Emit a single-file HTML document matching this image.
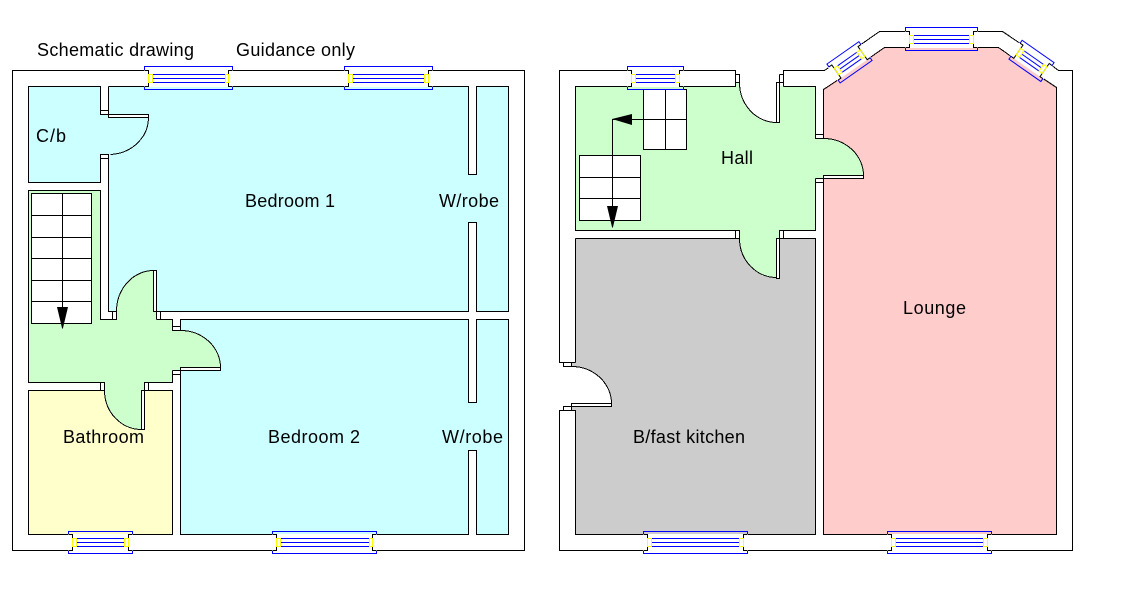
<!DOCTYPE html>
<html>
<head>
<meta charset="utf-8">
<style>
html,body{margin:0;padding:0;background:#fff;width:1124px;height:606px;overflow:hidden}
svg{display:block}
.k{fill:none;stroke:#000;stroke-width:1;shape-rendering:crispEdges}
.kw{fill:#fff;stroke:#000;stroke-width:1;shape-rendering:crispEdges}
.b{fill:none;stroke:#00f;stroke-width:1;shape-rendering:crispEdges}
.y{fill:none;stroke:#ff0;stroke-width:1;shape-rendering:crispEdges}
.w{fill:#fff;stroke:none;shape-rendering:crispEdges}
.f{stroke:none;shape-rendering:crispEdges}
text{font-family:"Liberation Sans",Arial,sans-serif;font-size:18px;fill:#000}
</style>
</head>
<body>
<svg width="1124" height="606" viewBox="0 0 1124 606" xmlns="http://www.w3.org/2000/svg">
<rect x="0" y="0" width="1124" height="606" fill="#fff"/>

<!-- LEFT PLAN fills -->
<g class="f" fill="#ccffff">
<rect x="108" y="86" width="400" height="225"/>
<rect x="180" y="319" width="328" height="215"/>
<rect x="28" y="86" width="72" height="96"/>
<rect x="100" y="114" width="9" height="40"/>
</g>
<rect class="w" x="469" y="86" width="7" height="88"/>
<rect class="w" x="469" y="222" width="7" height="90"/>
<rect class="w" x="469" y="319" width="7" height="83"/>
<rect class="w" x="469" y="450" width="7" height="85"/>
<rect class="f" fill="#ffffcc" x="28" y="390" width="144" height="144"/>
<path class="f" fill="#ccffcc" d="M28 190H100V319H116V311A37 41 0 0 1 153 270V311H156V319H172V330H180A40 37 0 0 1 220 367V370H172V382H144V429H141A37 39 0 0 1 104 390V382H28Z"/>

<!-- LEFT PLAN stairs -->
<rect class="kw" x="31.5" y="193.5" width="60" height="130"/>
<path class="k" d="M31.5 215.5H91.5M31.5 237.5H91.5M31.5 258.5H91.5M31.5 280.5H91.5M31.5 301.5H91.5M62.5 193.5V328.5"/>
<path fill="#000" d="M57 307H68L63 328H62Z"/>

<!-- LEFT PLAN lines -->
<rect class="k" x="12.5" y="70.5" width="512" height="480"/>
<path class="k" d="M100.5 110.5V86.5H28.5V182.5H100.5V154.5H108.5V158.5H100.5M100.5 110.5H108.5M100.5 110.5V114.5H108.5M108.5 86.5V114.5"/>
<rect class="kw" x="108.5" y="114.5" width="40" height="3"/>
<path class="k" d="M148.5 117.5A40 37 0 0 1 110.5 154.5"/>
<path class="k" d="M108.5 158.5V311.5H116.5V319.5H100.5V190.5H28.5V382.5H104.5V390.5H28.5V534.5H172.5V390.5H141.5M100.5 382.5V390.5M112.5 311.5V319.5"/>
<path class="k" d="M116.5 311.5A37 41 0 0 1 153.5 270.5"/>
<rect class="kw" x="153.5" y="270.5" width="3" height="41"/>
<path class="k" d="M153.5 311.5H468.5V222.5H476.5V311.5H508.5V86.5H476.5V174.5H468.5V86.5H108.5"/>
<path class="k" d="M156.5 311.5V319.5M160.5 311.5V319.5M156.5 319.5H172.5V330.5H180.5V326.5H172.5"/>
<path class="k" d="M180.5 330.5A40 37 0 0 1 220.5 367.5"/>
<rect class="kw" x="180.5" y="367.5" width="40" height="3"/>
<path class="k" d="M172.5 370.5H180.5V374.5H172.5M172.5 370.5V382.5H144.5V390.5H148.5V382.5"/>
<rect class="kw" x="141.5" y="390.5" width="3" height="39"/>
<path class="k" d="M141.5 429.5A37 39 0 0 1 104.5 390.5"/>
<path class="k" d="M180.5 374.5V534.5H468.5V450.5H476.5V534.5H508.5V319.5H476.5V402.5H468.5V319.5H180.5V330.5"/>

<!-- RIGHT PLAN fills -->
<path class="f" fill="#ffcccc" d="M823 89L884 47H998L1056 87V534H823Z"/>
<rect class="f" fill="#cccccc" x="575" y="238" width="240" height="296"/>
<rect class="f" fill="#cccccc" x="571" y="363" width="4" height="3"/>
<rect class="f" fill="#cccccc" x="571" y="406" width="4" height="4"/>
<path class="f" fill="#ccffcc" d="M575 86H735V82H739A37 40 0 0 0 776 122H779V86H815V138H823A40 37 0 0 1 863 175V178H815V230H779V278H776A37 40 0 0 1 739 238V230H575Z"/>
<path class="w" d="M571 366A40 37 0 0 1 611 403H571Z"/>

<!-- RIGHT PLAN stairs -->
<rect class="kw" x="643.5" y="89.5" width="43" height="60"/>
<path class="k" d="M665.5 89.5V149.5M685.5 119.5H612.5V227.5"/>
<path class="k" d="M643.5 119.5H686.5"/>
<rect class="kw" x="579.5" y="155.5" width="61" height="65"/>
<path class="k" d="M579.5 177.5H640.5M579.5 198.5H640.5M612.5 155.5V227.5"/>
<path fill="#000" d="M612 119L632 114V125Z"/>
<path fill="#000" d="M607 206H618L613 227H612Z"/>

<!-- RIGHT PLAN lines -->
<path class="k" d="M575.5 362.5H559.5V70.5H735.5V86.5H575.5V230.5H739.5V238.5H735.5V230.5"/>
<path class="k" d="M735.5 74.5H739.5V82.5H735.5"/>
<path class="k" d="M739.5 82.5A37 40 0 0 0 776.5 122.5"/>
<rect class="kw" x="776.5" y="82.5" width="3" height="40"/>
<path class="k" d="M779.5 74.5H783.5M779.5 82.5H783.5M779.5 74.5V82.5"/>
<path class="k" d="M783.5 86.5V70.5H824.5L831.8 65.5M783.5 86.5H815.5V134.5H823.5M815.5 134.5V138.5H823.5"/>
<path class="k" d="M841 78L823.5 89.5V138.5"/>
<path class="k" d="M823.5 138.5A40 37 0 0 1 863.5 175.5"/>
<rect class="kw" x="823.5" y="175.5" width="40" height="3"/>
<path class="k" d="M815.5 178.5H823.5M815.5 182.5H823.5M815.5 178.5V230.5H783.5V238.5H779.5V230.5H783.5"/>
<path class="k" d="M823.5 178.5V534.5H1056.5V87.5L1040 76.5M1013.8 58.3L998.5 47.5H973.5M909.5 47.5H884.5L867.2 59.6"/>
<path class="k" d="M858 46.6L879.5 31.5H909.5M973.5 31.5H1002.5L1023 45.2M1049.2 63.5L1058.5 70.5H1072.5V550.5H559.5V410.5H575.5V534.5H815.5V238.5H779.5M575.5 238.5H735.5M575.5 238.5V362.5"/>
<rect class="kw" x="776.5" y="238.5" width="3" height="40"/>
<path class="k" d="M776.5 277.5A37 39 0 0 1 739.5 238.5"/>
<rect class="kw" x="563.5" y="362.5" width="8" height="4"/>
<rect class="kw" x="563.5" y="406.5" width="8" height="4"/>
<rect class="kw" x="571.5" y="403.5" width="40" height="3"/>
<path class="k" d="M571.5 366.5A40 37 0 0 1 611.5 403.5"/>
<path class="w" d="M560 363H563V410H560Z"/>

<!-- WINDOWS: left top 1 -->
<rect class="w" x="149" y="70" width="79" height="17"/>
<rect class="b" x="144.5" y="66.5" width="88" height="23"/>
<rect class="w" x="144" y="70" width="4" height="17"/><rect class="w" x="229" y="70" width="4" height="17"/>
<path class="k" d="M144.5 70.5H148.5V86.5H144.5M232.5 70.5H228.5V86.5H232.5"/>
<path class="b" d="M152.5 74.5H225.5M152.5 78.5H225.5M152.5 82.5H225.5"/>
<rect class="y" x="148.5" y="74.5" width="4" height="8"/><rect class="y" x="225.5" y="74.5" width="3" height="8"/>

<!-- left top 2 -->
<rect class="w" x="349" y="70" width="79" height="17"/>
<rect class="b" x="344.5" y="66.5" width="88" height="23"/>
<rect class="w" x="344" y="70" width="4" height="17"/><rect class="w" x="429" y="70" width="4" height="17"/>
<path class="k" d="M344.5 70.5H348.5V86.5H344.5M432.5 70.5H428.5V86.5H432.5"/>
<path class="b" d="M352.5 74.5H424.5M352.5 78.5H424.5M352.5 82.5H424.5"/>
<rect class="y" x="348.5" y="74.5" width="4" height="8"/><rect class="y" x="424.5" y="74.5" width="4" height="8"/>

<!-- left bottom 1 -->
<rect class="w" x="73" y="534" width="55" height="17"/>
<rect class="b" x="68.5" y="531.5" width="64" height="22"/>
<rect class="w" x="68" y="534" width="4" height="17"/><rect class="w" x="129" y="534" width="4" height="17"/>
<path class="k" d="M68.5 534.5H72.5V550.5H68.5M132.5 534.5H128.5V550.5H132.5"/>
<path class="b" d="M76.5 538.5H124.5M76.5 542.5H124.5M76.5 546.5H124.5"/>
<rect class="y" x="72.5" y="538.5" width="4" height="8"/><rect class="y" x="124.5" y="538.5" width="4" height="8"/>

<!-- left bottom 2 -->
<rect class="w" x="277" y="534" width="95" height="17"/>
<rect class="b" x="272.5" y="531.5" width="104" height="22"/>
<rect class="w" x="272" y="534" width="4" height="17"/><rect class="w" x="373" y="534" width="4" height="17"/>
<path class="k" d="M272.5 534.5H276.5V550.5H272.5M376.5 534.5H372.5V550.5H376.5"/>
<path class="b" d="M280.5 538.5H369.5M280.5 542.5H369.5M280.5 546.5H369.5"/>
<rect class="y" x="276.5" y="538.5" width="4" height="8"/><rect class="y" x="369.5" y="538.5" width="3" height="8"/>

<!-- right top -->
<rect class="w" x="632" y="70" width="47" height="17"/>
<rect class="b" x="627.5" y="66.5" width="56" height="23"/>
<rect class="w" x="627" y="70" width="4" height="17"/><rect class="w" x="680" y="70" width="4" height="17"/>
<path class="k" d="M627.5 70.5H631.5V86.5H627.5M683.5 70.5H679.5V86.5H683.5"/>
<path class="b" d="M635.5 74.5H675.5M635.5 78.5H675.5M635.5 82.5H675.5"/>
<rect class="y" x="631.5" y="74.5" width="4" height="8"/><rect class="y" x="675.5" y="74.5" width="4" height="8"/>

<!-- right bay centre -->
<rect class="w" x="910" y="31" width="64" height="17"/>
<rect class="b" x="905.5" y="27.5" width="72" height="23"/>
<rect class="w" x="905" y="31" width="4" height="17"/><rect class="w" x="974" y="31" width="4" height="17"/>
<path class="k" d="M905.5 31.5H909.5V47.5H905.5M977.5 31.5H973.5V47.5H977.5"/>
<path d="M913.5 35.5H969.5M913.5 39.5H969.5M913.5 43.5H969.5" fill="none" stroke="#0000ff" stroke-width="1" shape-rendering="crispEdges"/>
<rect class="y" x="909.5" y="35.5" width="4" height="8"/><rect class="y" x="969.5" y="35.5" width="4" height="8"/>

<!-- right bay left diagonal -->
<g transform="translate(849.5 62.3) rotate(-35)">
<rect x="-19.5" y="-11.5" width="39" height="23" fill="none" stroke="#00f" stroke-width="1"/>
<rect x="-20.5" y="-8" width="41" height="16" fill="#fff"/>
<path d="M-19.5 -8H-16V8H-19.5M19.5 -8H16V8H19.5" fill="none" stroke="#000" stroke-width="1"/>
<path d="M-12 -4H12M-12 0H12M-12 4H12" fill="none" stroke="#00f" stroke-width="1"/>
<rect x="-16" y="-4" width="4" height="8" fill="none" stroke="#ff0" stroke-width="1"/>
<rect x="12" y="-4" width="4" height="8" fill="none" stroke="#ff0" stroke-width="1"/>
</g>

<!-- right bay right diagonal -->
<g transform="translate(1031.5 60.9) rotate(35)">
<rect x="-19.5" y="-11.5" width="39" height="23" fill="none" stroke="#00f" stroke-width="1"/>
<rect x="-20.5" y="-8" width="41" height="16" fill="#fff"/>
<path d="M-19.5 -8H-16V8H-19.5M19.5 -8H16V8H19.5" fill="none" stroke="#000" stroke-width="1"/>
<path d="M-12 -4H12M-12 0H12M-12 4H12" fill="none" stroke="#00f" stroke-width="1"/>
<rect x="-16" y="-4" width="4" height="8" fill="none" stroke="#ff0" stroke-width="1"/>
<rect x="12" y="-4" width="4" height="8" fill="none" stroke="#ff0" stroke-width="1"/>
</g>

<!-- right bottom 1 -->
<rect class="w" x="648" y="534" width="95" height="17"/>
<rect class="b" x="643.5" y="531.5" width="104" height="22"/>
<rect class="w" x="643" y="534" width="4" height="17"/><rect class="w" x="744" y="534" width="4" height="17"/>
<path class="k" d="M643.5 534.5H647.5V550.5H643.5M747.5 534.5H743.5V550.5H747.5"/>
<path class="b" d="M651.5 538.5H739.5M651.5 542.5H739.5M651.5 546.5H739.5"/>
<rect class="y" x="647.5" y="538.5" width="4" height="8"/><rect class="y" x="739.5" y="538.5" width="4" height="8"/>

<!-- right bottom 2 -->
<rect class="w" x="892" y="534" width="95" height="17"/>
<rect class="b" x="887.5" y="531.5" width="104" height="22"/>
<rect class="w" x="887" y="534" width="4" height="17"/><rect class="w" x="988" y="534" width="4" height="17"/>
<path class="k" d="M887.5 534.5H891.5V550.5H887.5M991.5 534.5H987.5V550.5H991.5"/>
<path class="b" d="M895.5 538.5H983.5M895.5 542.5H983.5M895.5 546.5H983.5"/>
<rect class="y" x="891.5" y="538.5" width="4" height="8"/><rect class="y" x="983.5" y="538.5" width="4" height="8"/>

<!-- labels -->
<text x="37" y="56" textLength="157">Schematic drawing</text>
<text x="236" y="56" textLength="119">Guidance only</text>
<text x="36" y="142" textLength="30">C/b</text>
<text x="245" y="207" textLength="90">Bedroom 1</text>
<text x="439" y="207" textLength="60">W/robe</text>
<text x="63" y="443" textLength="81">Bathroom</text>
<text x="268" y="443" textLength="92">Bedroom 2</text>
<text x="442" y="443" textLength="61">W/robe</text>
<text x="721" y="164" textLength="32">Hall</text>
<text x="903" y="314" textLength="63">Lounge</text>
<text x="633" y="443" textLength="112">B/fast kitchen</text>
</svg>
</body>
</html>
